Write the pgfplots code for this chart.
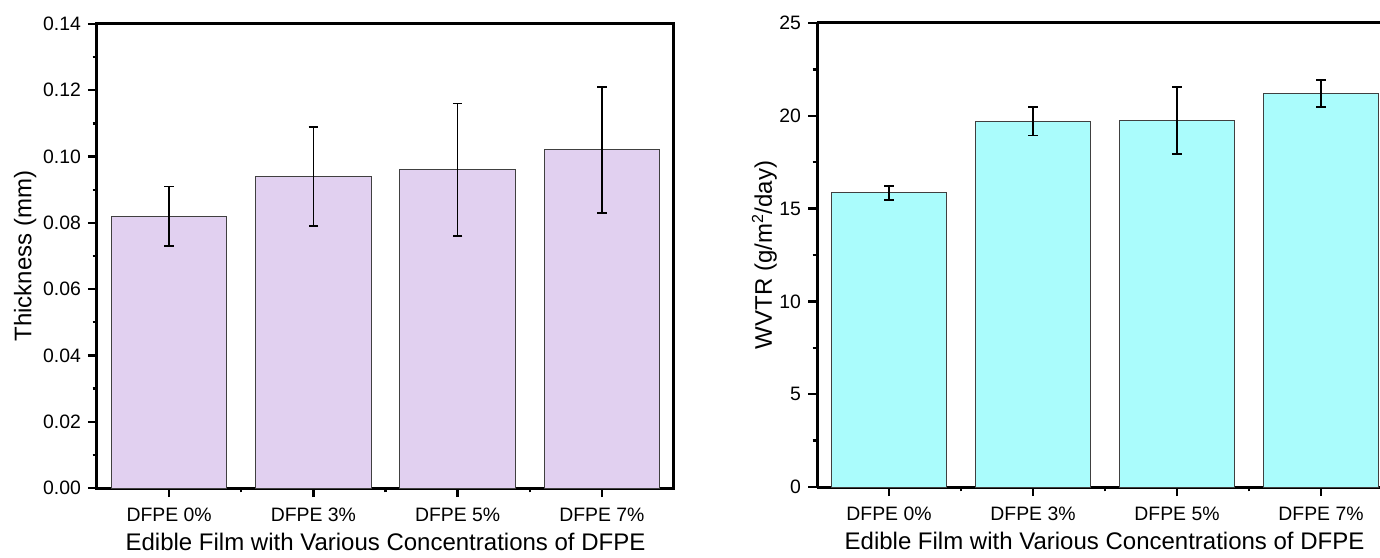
\documentclass[border=0pt]{standalone}
\usepackage{pgfplots}
\pgfplotsset{compat=1.18}
\usepackage{pgfplotstable}
\usepackage{fontspec}
\setmainfont{Liberation Sans}
\definecolor{lav}{RGB}{225,208,240}
\definecolor{cy}{RGB}{170,252,252}
\pgfplotstableread{
x y e
0 0.082 0.009
1 0.094 0.015
2 0.096 0.020
3 0.102 0.019
}\thick
\pgfplotstableread{
x y e
0 15.85 0.38
1 19.70 0.77
2 19.75 1.80
3 21.20 0.73
}\wvtr
\pgfplotsset{
 common/.style={
  scale only axis, height=232pt,
  xmin=-0.5, ymin=0,
  ybar, bar width=0.8,
  xtick={0,1,2,3}, xticklabels={DFPE 0\%,DFPE 3\%,DFPE 5\%,DFPE 7\%},
  minor xtick={0.5,1.5,2.5},
  minor y tick num=1,
  tick align=outside, major tick length=4.5pt, minor tick length=2.2pt,
  every tick/.style={line width=1.2pt, black},
  axis line style={line width=1.5pt},
  tick label style={font=\fontsize{9.7}{11}\selectfont},
  xticklabel style={yshift=-2pt},
  label style={font=\fontsize{12}{14}\selectfont},
  xlabel style={yshift=1.2pt},
  /pgf/number format/assume math mode=true,
  xlabel={Edible Film with Various Concentrations of DFPE},
  ylabel style={anchor=north},
  clip=false,
 },
 ebar/.style={error bars/.cd, y dir=both, y explicit,
   error bar style={line width=0.8pt, black},
   error mark options={line width=0.8pt, mark size=2.4pt, black, rotate=90}},
}
\begin{document}
\begin{tikzpicture}[x=1pt,y=1pt]
\path[use as bounding box] (-48.5,-34.5) rectangle (641.5,244);
\begin{axis}[common, at={(0pt,0pt)}, anchor=south west,
  width=288.5pt, xmax=3.5, ymax=0.14,
  xtick pos=bottom, ytick pos=left,
  ytick={0,0.02,0.04,0.06,0.08,0.10,0.12,0.14},
  yticklabel style={/pgf/number format/.cd, fixed, fixed zerofill, precision=2},
  ylabel={Thickness (mm)},
  ylabel style={at={(axis description cs:-0.156,0.5)}},
]
\addplot[fill=lav, draw=black!75, line width=0.5pt, ebar] table[x=x, y=y, y error=e] {\thick};
\end{axis}
\begin{axis}[common, at={(360pt,0.5pt)}, anchor=south west,
  width=281.5pt, xmax=3.41, ymax=25,
  axis x line*=bottom, axis y line*=left,
  ytick={0,5,10,15,20,25},
  ylabel={WVTR (g/m\textsuperscript{2}/day)},
  ylabel style={at={(axis description cs:-0.128,0.5)}},
  xlabel style={at={(ticklabel cs:0.5107)}},
]
\addplot[fill=cy, draw=black!75, line width=0.5pt, ebar] table[x=x, y=y, y error=e] {\wvtr};
\draw[line width=1.5pt] (rel axis cs:0,1) -- (rel axis cs:1,1);
\end{axis}
\end{tikzpicture}
\end{document}
